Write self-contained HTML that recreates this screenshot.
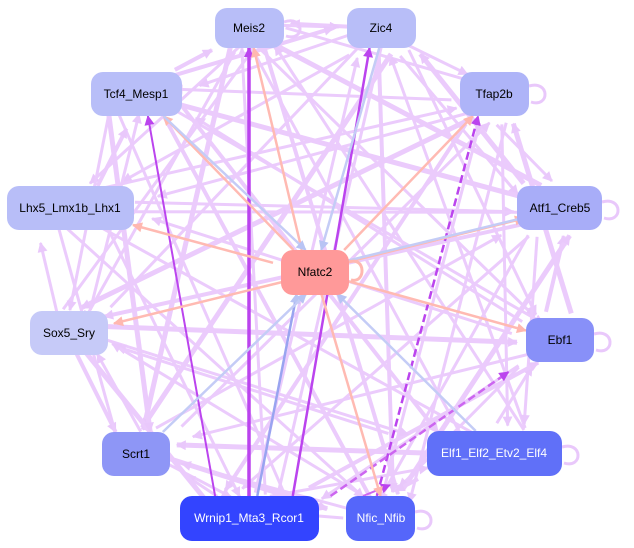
<!DOCTYPE html>
<html><head><meta charset="utf-8"><style>
html,body{margin:0;padding:0;background:#fff;width:634px;height:548px;overflow:hidden}
svg{display:block}
text{font-family:"Liberation Sans",Arial,sans-serif;font-size:12px;text-anchor:middle;dominant-baseline:central}
</style></head><body>
<svg id="s" width="634" height="548" viewBox="0 0 634 548" xmlns="http://www.w3.org/2000/svg">
<defs>
<marker id="mL" viewBox="0 0 10 10" refX="9" refY="5" markerUnits="userSpaceOnUse" markerWidth="11" markerHeight="10" orient="auto"><path d="M0,0L10,5L0,10z" fill="#e9c8fb"/></marker>
<marker id="mP" viewBox="0 0 10 10" refX="9" refY="5" markerUnits="userSpaceOnUse" markerWidth="11" markerHeight="10" orient="auto"><path d="M0,0L10,5L0,10z" fill="#bb44ee"/></marker>
<marker id="mR" viewBox="0 0 10 10" refX="9" refY="5" markerUnits="userSpaceOnUse" markerWidth="11" markerHeight="10" orient="auto"><path d="M0,0L10,5L0,10z" fill="#ffb8b0"/></marker>
<marker id="mB" viewBox="0 0 10 10" refX="9" refY="5" markerUnits="userSpaceOnUse" markerWidth="11" markerHeight="10" orient="auto"><path d="M0,0L10,5L0,10z" fill="#b8c4f4"/></marker>
</defs>
<g id="edges" fill="none"></g>
<g id="loops" fill="none" stroke="#e9c8fb" stroke-width="3">
<path d="M284,22 C305,15 305,42 286,36"/>
<path d="M529,86 C550,80 550,108 531,102"/>
<path d="M602,202 C623,196 623,224 604,218"/>
<path d="M594,334 C615,328 615,356 596,350"/>
<path d="M562,447 C583,441 583,469 564,463"/>
<path d="M415,512 C436,506 436,534 417,528"/>
<path d="M349,262 C366,256 366,284 351,280" stroke="#ffb8b0"/>
</g>
<g id="nodes">
<rect x="215" y="8" width="69" height="40" rx="12" fill="#b8bef8"/><text x="249" y="28">Meis2</text>
<rect x="347" y="8" width="69" height="40" rx="12" fill="#b8bef8"/><text x="381" y="28">Zic4</text>
<rect x="91" y="72" width="91" height="44" rx="12" fill="#b8bef8"/><text x="136" y="94">Tcf4_Mesp1</text>
<rect x="460" y="72" width="69" height="44" rx="12" fill="#aeb4f8"/><text x="494" y="94">Tfap2b</text>
<rect x="7" y="186" width="127" height="44" rx="12" fill="#b8bef8"/><text x="70" y="208">Lhx5_Lmx1b_Lhx1</text>
<rect x="517" y="186" width="85" height="44" rx="12" fill="#a8adf8"/><text x="560" y="208">Atf1_Creb5</text>
<rect x="281" y="250" width="68" height="45" rx="12" fill="#ff9999"/><text x="315" y="272">Nfatc2</text>
<rect x="30" y="311" width="78" height="44" rx="12" fill="#c6caf8"/><text x="69" y="333">Sox5_Sry</text>
<rect x="526" y="318" width="68" height="44" rx="12" fill="#8890f8"/><text x="560" y="340">Ebf1</text>
<rect x="102" y="432" width="68" height="44" rx="12" fill="#8e96f6"/><text x="136" y="454">Scrt1</text>
<rect x="427" y="431" width="135" height="45" rx="12" fill="#6070f8"/><text x="494" y="453" fill="#fff">Elf1_Elf2_Etv2_Elf4</text>
<rect x="180" y="496" width="139" height="45" rx="12" fill="#3344ff"/><text x="249" y="518" fill="#fff">Wrnip1_Mta3_Rcor1</text>
<rect x="346" y="496" width="69" height="45" rx="12" fill="#5566fa"/><text x="381" y="518" fill="#fff">Nfic_Nfib</text>
</g>
</svg>
<script>
var N={Meis2:[249,28,34,20],Zic4:[381,28,34,20],Tcf4:[136,94,45,22],Tfap2b:[494,94,34,22],Lhx5:[70,208,63,22],Atf1:[560,208,42,22],Nf:[315,272,34,22],Sox5:[69,333,39,22],Ebf1:[560,340,34,22],Scrt1:[136,454,34,22],Elf1:[494,453,67,22],Wr:[249,518,69,22],Nfic:[381,518,34,22]};
function pt(a,b,o1,o2){var A=N[a],B=N[b];var ax=A[0]+o1[0],ay=A[1]+o1[1],bx=B[0]+o2[0],by=B[1]+o2[1];var dx=bx-ax,dy=by-ay;var t=Math.min(Math.abs(A[2]/(dx||1e-6)),Math.abs(A[3]/(dy||1e-6)));var t2=Math.min(Math.abs(B[2]/(dx||1e-6)),Math.abs(B[3]/(dy||1e-6)));return [ax+dx*t,ay+dy*t,bx-dx*t2,by-dy*t2];}
var g=document.getElementById('edges'),ns='http://www.w3.org/2000/svg';
function ln(a,b,c,w,m,d,o1,o2){var p=pt(a,b,o1||[0,0],o2||[0,0]);var e=document.createElementNS(ns,'line');e.setAttribute('x1',p[0]);e.setAttribute('y1',p[1]);e.setAttribute('x2',p[2]);e.setAttribute('y2',p[3]);e.setAttribute('stroke',c);e.setAttribute('stroke-width',w);if(m)e.setAttribute('marker-end','url(#'+m+')');if(d)e.setAttribute('stroke-dasharray',d);g.appendChild(e);}
var K=['Meis2','Zic4','Tfap2b','Atf1','Ebf1','Elf1','Nfic','Wr','Scrt1','Sox5','Lhx5','Tcf4'];
var ws=[3,4,3,5,3];var k=0;
function off(n,s){var A=N[n];return [((s*37)%(A[2]*1.4))-A[2]*0.7,((s*13)%(A[3]*1.2))-A[3]*0.6];}
for(var i=0;i<K.length;i++)for(var j=i+1;j<K.length;j++){k++;
 if(k%2==0) ln(K[i],K[j],'#ebcbfc',ws[k%5],'mL',null,off(K[i],k),off(K[j],k+3));
 else ln(K[j],K[i],'#ebcbfc',ws[k%5],'mL',null,off(K[j],k),off(K[i],k+5));
 if(k%4==1) ln(K[i],K[j],'#ebcbfc',3,'mL',null,off(K[i],k+7),off(K[j],k+11));}
ln('Wr','Meis2','#bb44ee',3.5,'mP');
ln('Wr','Zic4','#bb44ee',2.5,'mP',null,[40,0],[-8,0]);
ln('Nfic','Tfap2b','#bb44ee',2.5,'mP','8,4',[-10,0],[-10,0]);
ln('Wr','Ebf1','#cc66f0',2.5,'mP','8,4',[50,0],[-20,10]);
ln('Wr','Elf1','#cc66f0',2,'mP',null,[60,0],[-50,10]);
ln('Wr','Tcf4','#bb44ee',2,'mP',null,[-30,0],[8,0]);
['Meis2','Tcf4','Tfap2b','Atf1','Ebf1','Sox5','Lhx5','Nfic'].forEach(function(n,i){ln('Nf',n,'#ffbab2',2.5,'mR',null,[(i%3-1)*8,0],[(i%2)*6,0]);});
['Wr','Elf1','Scrt1','Atf1','Zic4','Tcf4'].forEach(function(n,i){ln(n,'Nf',n=='Wr'?'#99a4f0':'#c4ccf6',2.5,'mB',null,[4,0],[(i%3-1)*14,0]);});
</script>
</body></html>
